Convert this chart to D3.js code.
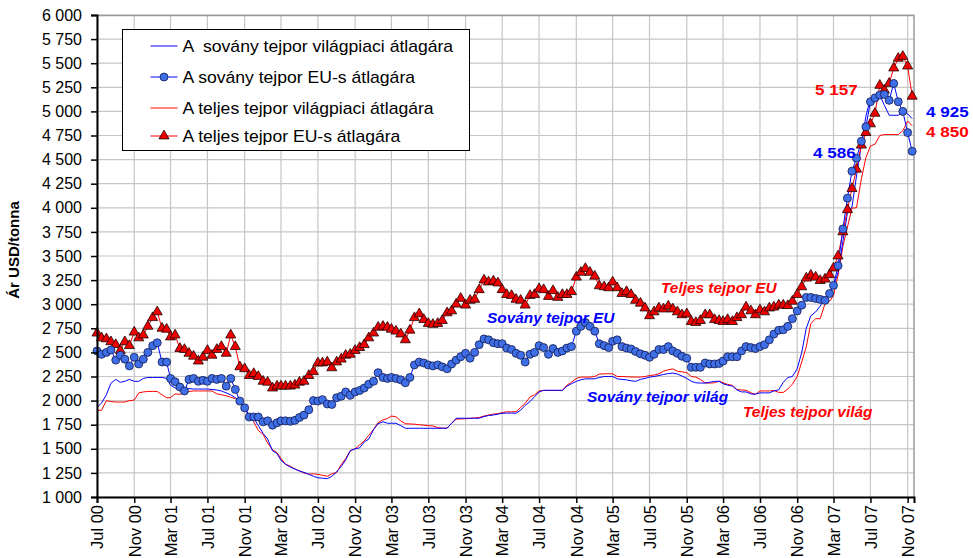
<!DOCTYPE html>
<html>
<head>
<meta charset="utf-8">
<script src="https://cdn.jsdelivr.net/npm/d3@7"></script>
<style>
  body { margin: 0; background: #fff; }
  text { font-family: Arial, "Liberation Sans", sans-serif; }
</style>
</head>
<body>
<script>
const svgWidth = 973
const svgHeight = 558

const margin = { top: 15, right: 59, bottom: 61, left: 97 }
const chartWidth = svgWidth - margin.left - margin.right
const chartHeight = svgHeight - margin.top - margin.bottom

// semi-monthly observations, 1st and 16th of each month, Jul 2000 - Nov 2007
const dates = d3.range(178).map(i => new Date(2000, 6 + Math.floor(i / 2), i % 2 ? 16 : 1))

const sovanyVilag = [
  1930,1975,2060,2180,2220,2190,2200,2220,2200,2200,
  2230,2240,2240,2240,2240,2230,2160,2130,2125,2120,
  2125,2120,2120,2120,2120,2115,2110,2100,2080,2060,
  2030,1990,1920,1850,1820,1740,1660,1600,1480,1450,
  1380,1340,1310,1290,1270,1255,1237,1215,1200,1195,
  1190,1215,1260,1317,1385,1480,1500,1510,1570,1600,
  1700,1760,1780,1765,1765,1765,1740,1713,1713,1713,
  1713,1713,1713,1713,1713,1713,1713,1765,1817,1817,
  1817,1817,1817,1817,1834,1845,1850,1860,1868,1870,
  1870,1870,1900,1950,1990,2040,2090,2107,2107,2107,
  2107,2107,2150,2175,2200,2216,2226,2226,2226,2240,
  2250,2250,2250,2226,2220,2215,2205,2200,2220,2230,
  2244,2250,2260,2271,2280,2285,2275,2255,2230,2200,
  2185,2182,2182,2190,2200,2200,2175,2160,2150,2110,
  2090,2090,2070,2066,2080,2080,2080,2100,2112,2190,
  2240,2250,2330,2500,2750,2880,2920,2980,3060,3110,
  3190,3330,3650,3950,4008,4330,4650,4950,5134,5168,
  5168,5064,4960,4960,4960,4990,4975,4925
]

const sovanyEU = [
  2515,2480,2500,2525,2420,2470,2430,2360,2450,2380,
  2430,2500,2570,2600,2400,2400,2230,2195,2140,2100,
  2220,2230,2200,2210,2200,2230,2220,2230,2150,2230,
  2115,1995,1925,1830,1830,1830,1780,1790,1745,1770,
  1790,1790,1785,1795,1825,1850,1905,2000,1995,2010,
  1965,1960,2030,2045,2090,2055,2090,2105,2130,2170,
  2200,2290,2240,2230,2240,2230,2215,2185,2240,2370,
  2400,2390,2370,2360,2370,2350,2330,2380,2420,2455,
  2490,2440,2500,2580,2640,2630,2600,2590,2590,2545,
  2530,2490,2470,2400,2480,2500,2570,2550,2480,2540,
  2500,2515,2545,2560,2720,2770,2810,2770,2720,2590,
  2570,2550,2615,2630,2560,2545,2535,2510,2485,2470,
  2450,2480,2530,2530,2560,2515,2490,2460,2440,2345,
  2345,2345,2390,2380,2380,2385,2410,2455,2455,2455,
  2515,2560,2550,2540,2560,2580,2630,2690,2730,2735,
  2770,2850,2930,2990,3070,3070,3060,3050,3040,3110,
  3195,3400,3780,4100,4380,4515,4690,4840,5100,5140,
  5170,5175,5115,5290,5100,5000,4780,4586
]

const teljesVilag = [
  1900,1900,2000,1990,1985,1985,1985,2000,2005,2080,
  2090,2095,2095,2095,2060,2030,2030,2070,2065,2080,
  2095,2100,2100,2100,2100,2100,2070,2060,2050,2035,
  2020,1995,1920,1850,1780,1690,1650,1560,1490,1460,
  1400,1340,1320,1290,1270,1250,1237,1240,1235,1225,
  1215,1240,1255,1335,1400,1480,1500,1540,1580,1640,
  1700,1773,1800,1815,1840,1832,1790,1760,1758,1755,
  1750,1745,1740,1737,1720,1714,1714,1765,1807,1810,
  1812,1815,1820,1825,1840,1850,1860,1865,1875,1884,
  1884,1884,1930,1970,2038,2060,2100,2105,2105,2105,
  2105,2105,2160,2190,2230,2244,2244,2244,2250,2275,
  2278,2278,2278,2250,2250,2248,2245,2244,2244,2250,
  2260,2265,2278,2305,2320,2329,2305,2298,2290,2250,
  2244,2220,2182,2182,2185,2202,2185,2168,2158,2114,
  2110,2107,2080,2066,2100,2100,2100,2105,2085,2085,
  2120,2170,2250,2400,2560,2800,2850,2850,3005,3030,
  3089,3300,3600,3800,3997,4000,4300,4520,4640,4660,
  4750,4760,4760,4760,4760,4800,4900,4850
]

const teljesEU = [
  2700,2650,2640,2610,2580,2520,2610,2570,2710,2650,
  2680,2770,2860,2920,2750,2740,2660,2680,2540,2530,
  2490,2460,2410,2450,2520,2470,2530,2560,2490,2680,
  2560,2350,2330,2260,2280,2250,2200,2190,2130,2150,
  2150,2150,2150,2160,2190,2200,2260,2300,2390,2390,
  2400,2340,2400,2430,2470,2480,2520,2550,2580,2650,
  2700,2760,2770,2760,2740,2720,2690,2630,2730,2860,
  2900,2840,2800,2790,2800,2830,2910,2930,3000,3060,
  2990,3040,3050,3150,3250,3230,3240,3220,3150,3100,
  3090,3050,3040,2990,3090,3100,3160,3150,3080,3140,
  3070,3100,3100,3130,3280,3330,3370,3330,3290,3190,
  3180,3170,3230,3170,3110,3130,3100,3040,3010,2960,
  2880,2920,2960,2950,2980,2950,2920,2890,2900,2820,
  2810,2830,2890,2890,2840,2830,2820,2840,2820,2860,
  2890,2970,2930,2890,2940,2920,2960,2970,2990,2990,
  2985,3030,3100,3180,3270,3300,3280,3245,3260,3305,
  3375,3500,3750,3980,4200,4400,4650,4780,4870,4980,
  5270,5220,5290,5450,5550,5570,5470,5157
]

const yTicks = d3.range(1000, 6001, 250)
const xTicks = d3.range(23).map(k => new Date(2000, 6 + 4 * k, 1))

const legendLabels = [
  "A  sovány tejpor világpiaci átlagára",
  "A sovány tejpor EU-s átlagára",
  "A teljes tejpor világpiaci átlagára",
  "A teljes tejpor EU-s átlagára"
]

const blue = "#0000ff"
const red = "#ff0000"
const circleFill = "#3f6fe6"
const triFill = "#ee0000"

const fmt = d3.formatLocale({ decimal: ",", thousands: " ", grouping: [3], currency: ["", ""] }).format(",")

const svg = d3.select("body").append("svg")
    .attr("width", svgWidth)
    .attr("height", svgHeight)

const chartG = svg.append("g")
    .attr("transform", `translate(${margin.left}, ${margin.top})`)

const x = d3.scaleTime()
    .domain([new Date(2000, 6, 1), new Date(2007, 10, 22)])
    .range([0, chartWidth])

const y = d3.scaleLinear()
    .domain([1000, 6000])
    .range([chartHeight, 0])

// grid
chartG.append("g").selectAll("line")
    .data(yTicks)
    .join("line")
    .attr("x1", 0).attr("x2", chartWidth)
    .attr("y1", d => y(d)).attr("y2", d => y(d))
    .attr("stroke", "#c6c6c6").attr("stroke-width", 1.2)

chartG.append("g").selectAll("line")
    .data(xTicks)
    .join("line")
    .attr("x1", d => x(d)).attr("x2", d => x(d))
    .attr("y1", 0).attr("y2", chartHeight)
    .attr("stroke", "#c6c6c6").attr("stroke-width", 1.2)

// plot frame top / right
chartG.append("path")
    .attr("d", `M0,0.5H${chartWidth}V${chartHeight}`)
    .attr("fill", "none")
    .attr("stroke", "#9a9a9a")
    .attr("stroke-width", 1.5)

const seriesLine = vals => d3.line()
    .x((d, i) => x(dates[i]))
    .y(d => y(d))(vals)

chartG.append("path")
    .attr("d", seriesLine(teljesVilag))
    .attr("fill", "none").attr("stroke", red).attr("stroke-width", 1)

chartG.append("path")
    .attr("d", seriesLine(sovanyVilag))
    .attr("fill", "none").attr("stroke", blue).attr("stroke-width", 1)

chartG.append("path")
    .attr("d", seriesLine(teljesEU))
    .attr("fill", "none").attr("stroke", red).attr("stroke-width", 1)

chartG.append("path")
    .attr("d", seriesLine(sovanyEU))
    .attr("fill", "none").attr("stroke", blue).attr("stroke-width", 1)

const tri = d3.symbol().type(d3.symbolTriangle).size(44)

chartG.append("g").selectAll("path")
    .data(teljesEU)
    .join("path")
    .attr("d", tri)
    .attr("transform", (d, i) => `translate(${x(dates[i])}, ${y(d)})`)
    .attr("fill", triFill)
    .attr("stroke", "#200000")
    .attr("stroke-width", 0.8)

chartG.append("g").selectAll("circle")
    .data(sovanyEU)
    .join("circle")
    .attr("cx", (d, i) => x(dates[i]))
    .attr("cy", d => y(d))
    .attr("r", 4)
    .attr("fill", circleFill)
    .attr("stroke", "#101850")
    .attr("stroke-width", 0.8)

// axes
const yAxis = chartG.append("g")
    .call(d3.axisLeft(y).tickValues(yTicks).tickFormat(fmt).tickSize(6).tickPadding(9))
yAxis.select(".domain").attr("stroke", "#000").attr("stroke-width", 2)
yAxis.selectAll(".tick line").attr("stroke", "#000").attr("stroke-width", 1.5)
yAxis.selectAll("text").attr("font-size", 16).attr("fill", "#000")

const xAxis = chartG.append("g")
    .attr("transform", `translate(0, ${chartHeight})`)
    .call(d3.axisBottom(x).tickValues(xTicks).tickFormat(d3.timeFormat("%b %y")).tickSize(6))
xAxis.select(".domain").attr("stroke", "#000").attr("stroke-width", 2)
xAxis.selectAll(".tick line").attr("stroke", "#000").attr("stroke-width", 1.5)
xAxis.selectAll("text")
    .attr("font-size", 16.5)
    .attr("fill", "#000")
    .attr("transform", "rotate(-90)")
    .attr("x", -8)
    .attr("y", 0)
    .attr("dy", "0.35em")
    .style("text-anchor", "end")

svg.append("text")
    .attr("transform", `translate(19, 250) rotate(-90)`)
    .attr("text-anchor", "middle")
    .attr("font-size", 15)
    .attr("font-weight", "bold")
    .text("Ár USD/tonna")

// inline labels
const notes = [
  { t: "Teljes tejpor EU", x: 661, y: 293, c: red },
  { t: "Sovány tejpor EU", x: 487, y: 323, c: blue },
  { t: "Sovány tejpor világ", x: 587, y: 402, c: blue },
  { t: "Teljes tejpor világ", x: 743, y: 417, c: red }
]
svg.append("g").selectAll("text")
    .data(notes)
    .join("text")
    .attr("transform", d => `translate(${d.x}, ${d.y}) scale(1.1, 1)`)
    .attr("fill", d => d.c)
    .attr("font-size", 14)
    .attr("font-weight", "bold")
    .attr("font-style", "italic")
    .text(d => d.t)

const values = [
  { t: "5 157", x: 815, y: 95, c: red },
  { t: "4 586", x: 813, y: 158, c: blue },
  { t: "4 925", x: 926, y: 117, c: blue },
  { t: "4 850", x: 926, y: 137, c: red }
]
svg.append("g").selectAll("text")
    .data(values)
    .join("text")
    .attr("transform", d => `translate(${d.x}, ${d.y}) scale(1.1, 1)`)
    .attr("fill", d => d.c)
    .attr("font-size", 15.5)
    .attr("font-weight", "bold")
    .text(d => d.t)

// legend
const legend = svg.append("g").attr("transform", "translate(122.5, 29.5)")
legend.append("rect")
    .attr("width", 347).attr("height", 121)
    .attr("fill", "#fff").attr("stroke", "#000").attr("stroke-width", 1)

const legendRows = legendLabels.map((t, i) => ({
  t,
  c: i < 2 ? blue : red,
  mark: i === 1 ? "circle" : i === 3 ? "tri" : null
}))
const rowY = [16.5, 47.5, 78.5, 106.5]

const rows = legend.selectAll("g.row")
    .data(legendRows)
    .join("g")
    .attr("class", "row")
    .attr("transform", (d, i) => `translate(0, ${rowY[i]})`)

rows.append("line")
    .attr("x1", 28).attr("x2", 55)
    .attr("stroke", d => d.c).attr("stroke-width", 1)

rows.filter(d => d.mark === "circle").append("circle")
    .attr("cx", 41.5).attr("r", 4)
    .attr("fill", circleFill).attr("stroke", "#101850").attr("stroke-width", 0.8)

rows.filter(d => d.mark === "tri").append("path")
    .attr("d", tri)
    .attr("transform", "translate(41.5, 0)")
    .attr("fill", triFill).attr("stroke", "#200000").attr("stroke-width", 0.8)

rows.append("text")
    .attr("transform", "translate(60, 0) scale(1.1, 1)")
    .attr("dy", "0.36em")
    .attr("font-size", 16)
    .attr("fill", "#000")
    .style("white-space", "pre")
    .text(d => d.t)
</script>
</body>
</html>
